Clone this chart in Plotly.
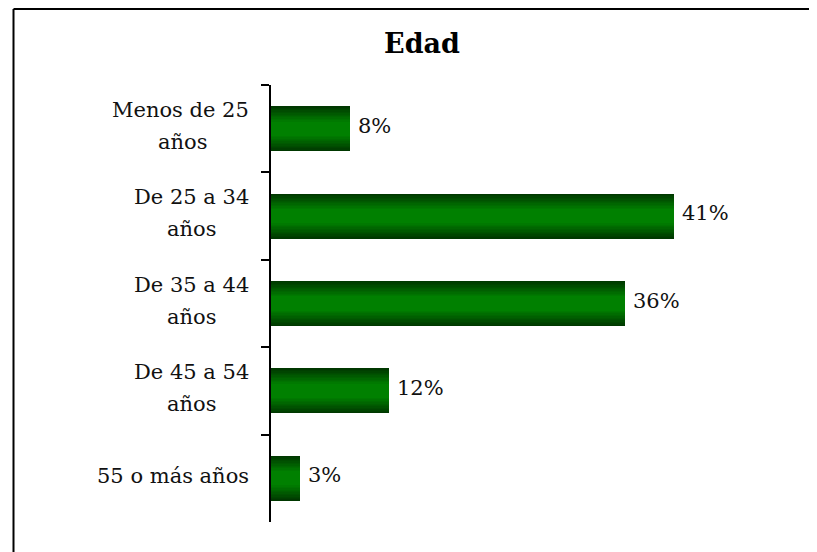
import plotly.graph_objects as go

categorias = ["Menos de 25 años", "De 25 a 34 años", "De 35 a 44 años",
              "De 45 a 54 años", "55 o más años"]
etiquetas_linea1 = ["Menos de 25", "De 25 a 34", "De 35 a 44", "De 45 a 54", "55 o más años"]
etiquetas_linea2 = ["años", "años", "años", "años", ""]
porcentajes = [8, 41, 36, 12, 3]

FONT = "DejaVu Serif"
TXT = dict(family=FONT, size=21, color="#111111")
BAR_W = 0.514
N_CAPAS = 12
OSCURO = (0, 56, 0)
CLARO = (0, 128, 0)
# centro horizontal de la segunda línea, en px a la izquierda del eje
CENTRO_L2 = [-89, -80, -80, -80, 0]

# la página html añade 8 px de margen: se compensa aquí
FIG_W, FIG_H = 809, 544
L, T, W, H = 263, 77, 491, 437

fig = go.Figure()

# degradado vertical: capas superpuestas cada vez más finas y claras
for k in range(N_CAPAS):
    t = k / (N_CAPAS - 1)
    col = tuple(int(round(a + (b - a) * t)) for a, b in zip(OSCURO, CLARO))
    fig.add_trace(go.Bar(
        x=porcentajes,
        y=categorias,
        orientation="h",
        width=BAR_W * (1 - 0.68 * t),
        marker=dict(color="rgb(%d,%d,%d)" % col, line=dict(width=0)),
        showlegend=False,
        hoverinfo="skip",
    ))

anotaciones = []
for cat, l1, l2, v, c2 in zip(categorias, etiquetas_linea1, etiquetas_linea2,
                              porcentajes, CENTRO_L2):
    # valor al final de la barra
    anotaciones.append(dict(
        x=v, y=cat, xref="x", yref="y", text=f"{v}%", showarrow=False,
        xanchor="left", yanchor="middle", xshift=6, yshift=3, font=TXT,
    ))
    if l2:
        anotaciones.append(dict(
            x=0, y=cat, xref="paper", yref="y", text=l1, showarrow=False,
            xanchor="right", yanchor="middle", xshift=-20, yshift=19, font=TXT,
        ))
        anotaciones.append(dict(
            x=0, y=cat, xref="paper", yref="y", text=l2, showarrow=False,
            xanchor="center", yanchor="middle", xshift=c2, yshift=-13, font=TXT,
        ))
    else:
        anotaciones.append(dict(
            x=0, y=cat, xref="paper", yref="y", text=l1, showarrow=False,
            xanchor="right", yanchor="middle", xshift=-20, yshift=2, font=TXT,
        ))

# marco del gráfico: solo se ven el borde superior y el izquierdo
px = lambda x: (x - L) / W
py = lambda y: (T + H - y) / H
marco = [
    dict(type="line", xref="paper", yref="paper",
         x0=px(5.5), x1=px(FIG_W), y0=py(1), y1=py(1),
         line=dict(color="black", width=2)),
    dict(type="line", xref="paper", yref="paper",
         x0=px(5.5), x1=px(5.5), y0=py(1), y1=py(FIG_H),
         line=dict(color="black", width=2)),
]

fig.update_layout(
    width=FIG_W,
    height=FIG_H,
    margin=dict(l=L, r=FIG_W - L - W, t=T, b=FIG_H - T - H),
    paper_bgcolor="white",
    plot_bgcolor="white",
    barmode="overlay",
    bargap=0,
    title=dict(
        text="<b>Edad</b>",
        x=414 / FIG_W, xref="container", xanchor="center",
        y=1 - 36 / FIG_H, yref="container", yanchor="middle",
        font=dict(family=FONT, size=27, color="black"),
    ),
    xaxis=dict(visible=False, range=[0, 50], fixedrange=True),
    yaxis=dict(
        type="category",
        categoryorder="array",
        categoryarray=categorias,
        range=[4.5, -0.5],
        showticklabels=False,
        showgrid=False,
        zeroline=False,
        showline=True,
        linecolor="black",
        linewidth=2,
        ticks="outside",
        tickson="boundaries",
        ticklen=8,
        tickwidth=2,
        tickcolor="black",
    ),
    annotations=anotaciones,
    shapes=marco,
)

fig.write_html("out.html")
